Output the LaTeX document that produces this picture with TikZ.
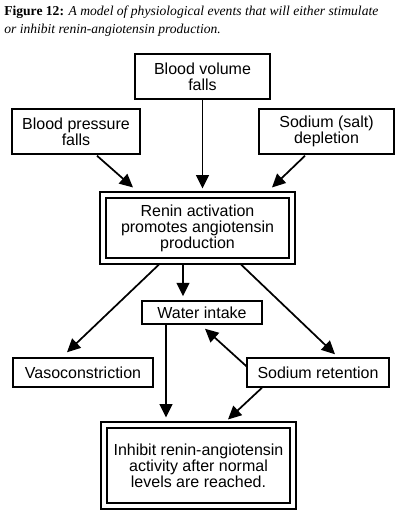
\documentclass[tikz,border=0pt]{standalone}
\usepackage{fontspec}
\setmainfont{Liberation Serif}
\newfontfamily\boxfont{Liberation Sans}
\usetikzlibrary{calc,arrows.meta}

\tikzset{
	box/.style={draw, line width=1.1pt, align=center, inner sep=0pt, font=\boxfont\fontsize{12}{12}\selectfont},
	inbox/.style={box, line width=0.8pt},
	frame/.style={line width=1.5pt},
	arr/.style={line width=1.3pt, -{Triangle[length=10pt,width=9.5pt]}},
}

\begin{document}
\begin{tikzpicture}[x=0.75pt,y=-0.75pt]
			%%%%% START %%%%%
			\useasboundingbox (0,0) rectangle (404,518);
			
			\node[anchor=north west, inner sep=0pt, align=left, font=\fontsize{10.2}{13}\selectfont] (title) at (4,6)
				{\textbf{Figure 12:} \textit{A model of physiological events that will either stimulate}\\
				 \textit{or inhibit renin-angiotensin production.}};
			
			%% causes
			\node[box, minimum width=101.25pt, minimum height=33.75pt] (bv) at (202.5,76.5) {Blood volume\\falls};
			\node[box, minimum width=96pt, minimum height=33.75pt] (bp) at (76,131.5) {Blood pressure\\falls};
			\node[box, minimum width=101.25pt, minimum height=33.75pt] (na) at (326.5,131.5) {Sodium (salt)\\depletion};
			
			%% renin
			\node[inbox, minimum width=137.25pt, minimum height=45pt] (renin) at (197.5,228) {Renin activation\\promotes angiotensin\\production};
			\draw[frame] ($(renin.north west)+(-5.5,-5)$) rectangle ($(renin.south east)+(5.5,5)$);
			
			\draw[arr] ($(bp.south)+(21,1)$) -- ($(renin.north)+(-64.5,-10)$);
			\draw[arr] (bv.south) -- ($(bv.south |- renin.north)+(0,-9)$);
			\draw[arr] ($(na.south)+(-21.5,1)$) -- ($(renin.north)+(74.5,-10)$);
			
			%% effects
			\node[box, minimum width=90pt, minimum height=17.25pt] (water) at (202,312.5) {Water intake};
			\node[box, minimum width=105pt, minimum height=21.75pt] (vaso) at (83,372.5) {Vasoconstriction};
			\node[box, minimum width=106.5pt, minimum height=21.75pt] (sr) at (318,372.5) {Sodium retention};
			
			\draw[arr] ($(renin.south)+(-14.5,5)$) -- ($(water.north)+(-19,-4)$);
			\draw[arr] ($(renin.south)+(-37.5,5)$) -- ($(vaso.north)+(-16,-5)$);
			\draw[arr] ($(renin.south)+(42.5,5)$) -- ($(sr.north)+(17,-3)$);
			\draw[arr] ($(sr.west)+(1,-5.5)$) -- ($(water.south)+(3,4)$);
			
			%% feedback
			\node[inbox, minimum width=137.25pt, minimum height=56.25pt] (inhibit) at (198.5,465.5) {Inhibit renin-angiotensin\\activity after normal\\levels are reached.};
			\draw[frame] ($(inhibit.north west)+(-5.5,-5)$) rectangle ($(inhibit.south east)+(5.5,5)$);
			
			\draw[arr] ($(water.south)+(-36,0)$) -- ($(inhibit.north)+(-32.5,-10)$);
			\draw[arr] ($(sr.south)+(-56,0)$) -- ($(inhibit.north)+(29.5,-8)$);
			%%%%% END %%%%%
\end{tikzpicture}
\end{document}
